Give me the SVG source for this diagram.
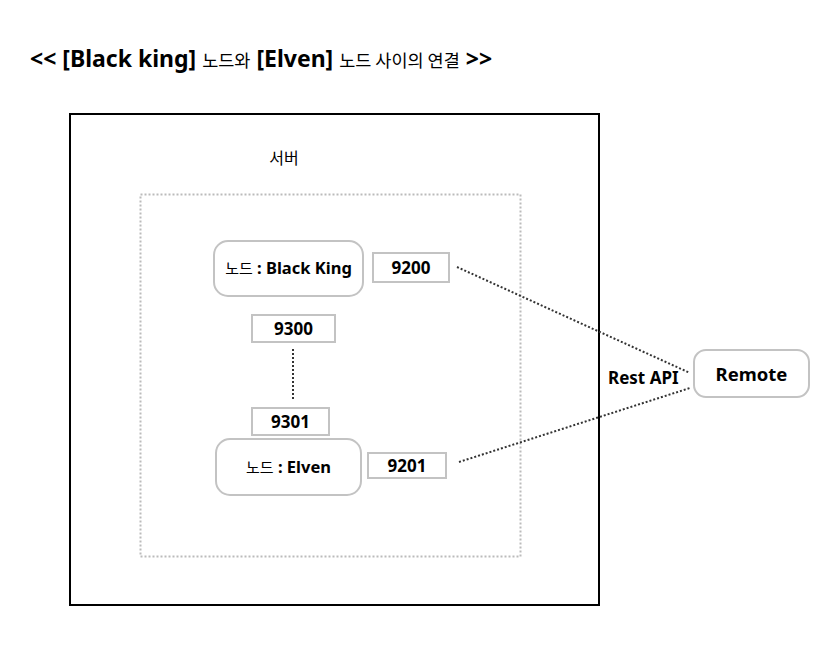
<svg xmlns="http://www.w3.org/2000/svg" width="839" height="652" viewBox="0 0 839 652">
<style>
.b{font-family:"Noto Sans","Noto Sans CJK KR",sans-serif;font-weight:bold;fill:#000}
.k{font-family:"Noto Sans CJK KR",sans-serif;font-weight:normal;fill:#000}
.node{fill:#fff;stroke:#c3c3c3;stroke-width:2}
.port{fill:#fff;stroke:#c3c3c3;stroke-width:2}
.link{stroke:#333;stroke-width:2;stroke-dasharray:2 2;fill:none}
</style>
<rect width="839" height="652" fill="#fff"/>
<g id="title">
<text x="30" y="67" class="b" font-size="23">&lt;&lt; [Black king] <tspan class="k" font-size="17.5">노드와</tspan> [Elven] <tspan class="k" font-size="17.5">노드 사이의 연결</tspan> &gt;&gt;</text>
</g>
<g id="server">
<rect x="70" y="114" width="529" height="491" fill="none" stroke="#000" stroke-width="2"/>
<text x="284" y="164" class="k" font-size="16" text-anchor="middle">서버</text>
</g>
<g id="inner">
<rect x="140.5" y="194.5" width="380" height="362" fill="none" stroke="#bbb" stroke-width="2" stroke-dasharray="2 2"/>
</g>
<g id="connectors">
<line x1="293" y1="349" x2="293" y2="400" class="link"/>
<line x1="457" y1="267" x2="690" y2="373" class="link"/>
<line x1="459" y1="462" x2="690" y2="388" class="link"/>
</g>
<g id="blackking">
<rect x="214" y="241" width="149" height="55" rx="14" class="node"/>
<text x="288.5" y="274" class="b" font-size="16.5" text-anchor="middle"><tspan class="k" font-size="15">노드</tspan> : Black King</text>
</g>
<g id="p9200">
<rect x="373" y="253" width="76" height="29" class="port"/>
<text x="411" y="274" class="b" font-size="17" text-anchor="middle">9200</text>
</g>
<g id="p9300">
<rect x="252" y="315" width="83" height="27" class="port"/>
<text x="293.5" y="335" class="b" font-size="17" text-anchor="middle">9300</text>
</g>
<g id="p9301">
<rect x="252" y="408" width="77" height="27" class="port"/>
<text x="290.5" y="428" class="b" font-size="17" text-anchor="middle">9301</text>
</g>
<g id="elven">
<rect x="216" y="439" width="145" height="56" rx="14" class="node"/>
<text x="288.5" y="473" class="b" font-size="16.5" text-anchor="middle"><tspan class="k" font-size="15">노드</tspan> : Elven</text>
</g>
<g id="p9201">
<rect x="368" y="453" width="78" height="25" class="port"/>
<text x="407" y="472" class="b" font-size="17" text-anchor="middle">9201</text>
</g>
<g id="remote">
<rect x="694" y="350" width="115" height="47" rx="12" class="node"/>
<text x="751.5" y="381" class="b" font-size="18.5" text-anchor="middle">Remote</text>
</g>
<g id="restapi">
<text x="608" y="384" class="b" font-size="17">Rest API</text>
</g>
</svg>
